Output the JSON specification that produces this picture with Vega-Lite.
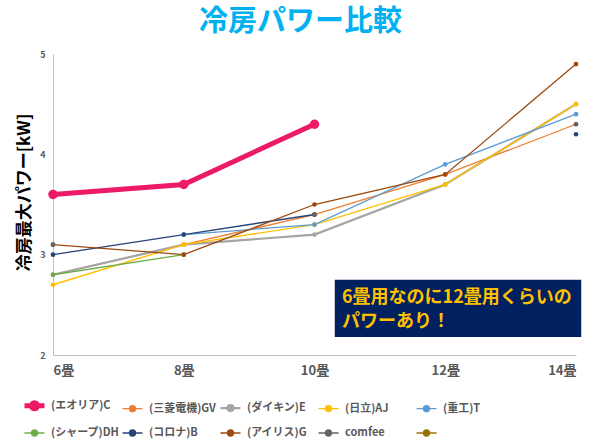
{
  "$schema": "https://vega.github.io/schema/vega-lite/v6.json",
  "description": "冷房パワー比較",
  "autosize": {"type": "none"},
  "padding": {"left": 53, "top": 54, "right": 24, "bottom": 87},
  "width": 523,
  "height": 301,
  "background": "white",
  "config": {
    "font": "Noto Sans CJK JP",
    "view": {"stroke": null},
    "axis": {"grid": false, "ticks": false, "domainColor": "#BFBFBF", "labelColor": "#595959", "labelFontWeight": "bold"},
    "legend": {"symbolSize": 400}
  },
  "title": {
    "text": "冷房パワー比較",
    "color": "#00B0F0",
    "fontSize": 29,
    "fontWeight": "bold",
    "anchor": "middle",
    "dx": -14,
    "offset": 13
  },
  "layer": [
    {
      "data": {"values": [{"x1": 10.31, "x2": 14.08, "y1": 2.18, "y2": 2.75}]},
      "mark": {"type": "rect", "color": "#002060"},
      "encoding": {
        "x": {"field": "x1", "type": "quantitative"},
        "x2": {"field": "x2"},
        "y": {"field": "y1", "type": "quantitative"},
        "y2": {"field": "y2"}
      }
    },
    {
      "data": {"values": [
        {"x": 10.42, "y": 2.57, "note": "6畳用なのに12畳用くらいの"},
        {"x": 10.42, "y": 2.33, "note": "パワーあり！"}
      ]},
      "mark": {"type": "text", "align": "left", "baseline": "middle", "color": "#FFC000", "fontSize": 18, "fontWeight": "bold"},
      "encoding": {
        "x": {"field": "x", "type": "quantitative"},
        "y": {"field": "y", "type": "quantitative"},
        "text": {"field": "note"}
      }
    },
    {
      "data": {"values": [
        {"series": "(エオリア)C", "jo": 6, "kw": 3.6},
        {"series": "(エオリア)C", "jo": 8, "kw": 3.7},
        {"series": "(エオリア)C", "jo": 10, "kw": 4.3},
        {"series": "(三菱電機)GV", "jo": 6, "kw": 2.8},
        {"series": "(三菱電機)GV", "jo": 8, "kw": 3.1},
        {"series": "(三菱電機)GV", "jo": 10, "kw": 3.4},
        {"series": "(三菱電機)GV", "jo": 12, "kw": 3.8},
        {"series": "(三菱電機)GV", "jo": 14, "kw": 4.3},
        {"series": "(ダイキン)E", "jo": 6, "kw": 2.8},
        {"series": "(ダイキン)E", "jo": 8, "kw": 3.1},
        {"series": "(ダイキン)E", "jo": 10, "kw": 3.2},
        {"series": "(ダイキン)E", "jo": 12, "kw": 3.7},
        {"series": "(ダイキン)E", "jo": 14, "kw": 4.5},
        {"series": "(日立)AJ", "jo": 6, "kw": 2.7},
        {"series": "(日立)AJ", "jo": 8, "kw": 3.1},
        {"series": "(日立)AJ", "jo": 10, "kw": 3.3},
        {"series": "(日立)AJ", "jo": 12, "kw": 3.7},
        {"series": "(日立)AJ", "jo": 14, "kw": 4.5},
        {"series": "(重工)T", "jo": 8, "kw": 3.2},
        {"series": "(重工)T", "jo": 10, "kw": 3.3},
        {"series": "(重工)T", "jo": 12, "kw": 3.9},
        {"series": "(重工)T", "jo": 14, "kw": 4.4},
        {"series": "(シャープ)DH", "jo": 6, "kw": 2.8},
        {"series": "(シャープ)DH", "jo": 8, "kw": 3.0},
        {"series": "(コロナ)B", "jo": 6, "kw": 3.0},
        {"series": "(コロナ)B", "jo": 8, "kw": 3.2},
        {"series": "(コロナ)B", "jo": 10, "kw": 3.4},
        {"series": "(コロナ)B", "jo": 12, "kw": null},
        {"series": "(コロナ)B", "jo": 14, "kw": 4.2},
        {"series": "(アイリス)G", "jo": 6, "kw": 3.1},
        {"series": "(アイリス)G", "jo": 8, "kw": 3.0},
        {"series": "(アイリス)G", "jo": 10, "kw": 3.5},
        {"series": "(アイリス)G", "jo": 12, "kw": 3.8},
        {"series": "(アイリス)G", "jo": 14, "kw": 4.9},
        {"series": "comfee", "jo": 6, "kw": 3.1},
        {"series": "comfee", "jo": 8, "kw": null},
        {"series": "comfee", "jo": 10, "kw": 3.4},
        {"series": "comfee", "jo": 12, "kw": null},
        {"series": "comfee", "jo": 14, "kw": 4.3}
      ]},
      "encoding": {
        "x": {
          "field": "jo",
          "type": "quantitative",
          "title": null,
          "scale": {"domain": [6, 14], "nice": false, "zero": false},
          "axis": {"values": [6, 8, 10, 12, 14], "labelExpr": "datum.value + '畳'", "labelFontSize": 13, "labelPadding": 9}
        },
        "y": {
          "field": "kw",
          "type": "quantitative",
          "title": "冷房最大パワー[kW]",
          "scale": {"domain": [2, 5], "nice": false, "zero": false},
          "axis": {"values": [2, 3, 4, 5], "format": "d", "labelFontSize": 9, "labelPadding": 8, "titleFontSize": 17, "titleFontWeight": "bold", "titleColor": "black", "titlePadding": 6, "titleY": 138}
        },
        "color": {
          "field": "series",
          "type": "nominal",
          "scale": {
            "domain": ["(エオリア)C", "(三菱電機)GV", "(ダイキン)E", "(日立)AJ", "(重工)T", "(シャープ)DH", "(コロナ)B", "(アイリス)G", "comfee", " "],
            "range": ["#EC1A67", "#ED7D31", "#A5A5A5", "#FFC000", "#5B9BD5", "#70AD47", "#264478", "#9E480E", "#636363", "#997300"]
          },
          "legend": {
            "title": null,
            "orient": "none",
            "direction": "horizontal",
            "columns": 5,
            "gridAlign": "all",
            "legendX": -31,
            "legendY": 339,
            "padding": 0,
            "columnPadding": -3,
            "rowPadding": 3,
            "symbolType": "M-1,0L1,0M-0.3,0A0.3,0.3,0,1,1,0.3,0A0.3,0.3,0,1,1,-0.3,0",
            "symbolSize": 400,
            "labelOffset": 4,
            "labelFontSize": 11,
            "labelFontWeight": "bold",
            "labelColor": "#595959",
            "labelLimit": 200,
            "encode": {
              "symbols": {
                "update": {
                  "fill": {"scale": "color", "field": "value"},
                  "stroke": {"signal": "datum.value === ' ' ? '#5B9BD5' : scale('color', datum.value)"},
                  "strokeWidth": {"scale": "strokeWidth", "field": "value"},
                  "opacity": {"value": 1}
                }
              }
            }
          }
        }
      },
      "layer": [
        {
          "mark": {"type": "line"},
          "encoding": {
            "strokeWidth": {
              "field": "series",
              "type": "nominal",
              "legend": null,
              "scale": {
                "type": "ordinal",
                "domain": ["(エオリア)C", "(三菱電機)GV", "(ダイキン)E", "(日立)AJ", "(重工)T", "(シャープ)DH", "(コロナ)B", "(アイリス)G", "comfee", " "],
                "range": [5, 1.3, 2.2, 1.4, 1.3, 1.3, 1.4, 1.3, 1.3, 1.3]
              }
            }
          }
        },
        {
          "transform": [{"filter": "datum.series !== '(エオリア)C'"}],
          "mark": {"type": "point", "filled": true, "opacity": 1, "size": 22}
        },
        {
          "transform": [{"filter": "datum.series === '(エオリア)C'"}],
          "mark": {"type": "point", "filled": true, "opacity": 1, "size": 90}
        }
      ]
    }
  ]
}
